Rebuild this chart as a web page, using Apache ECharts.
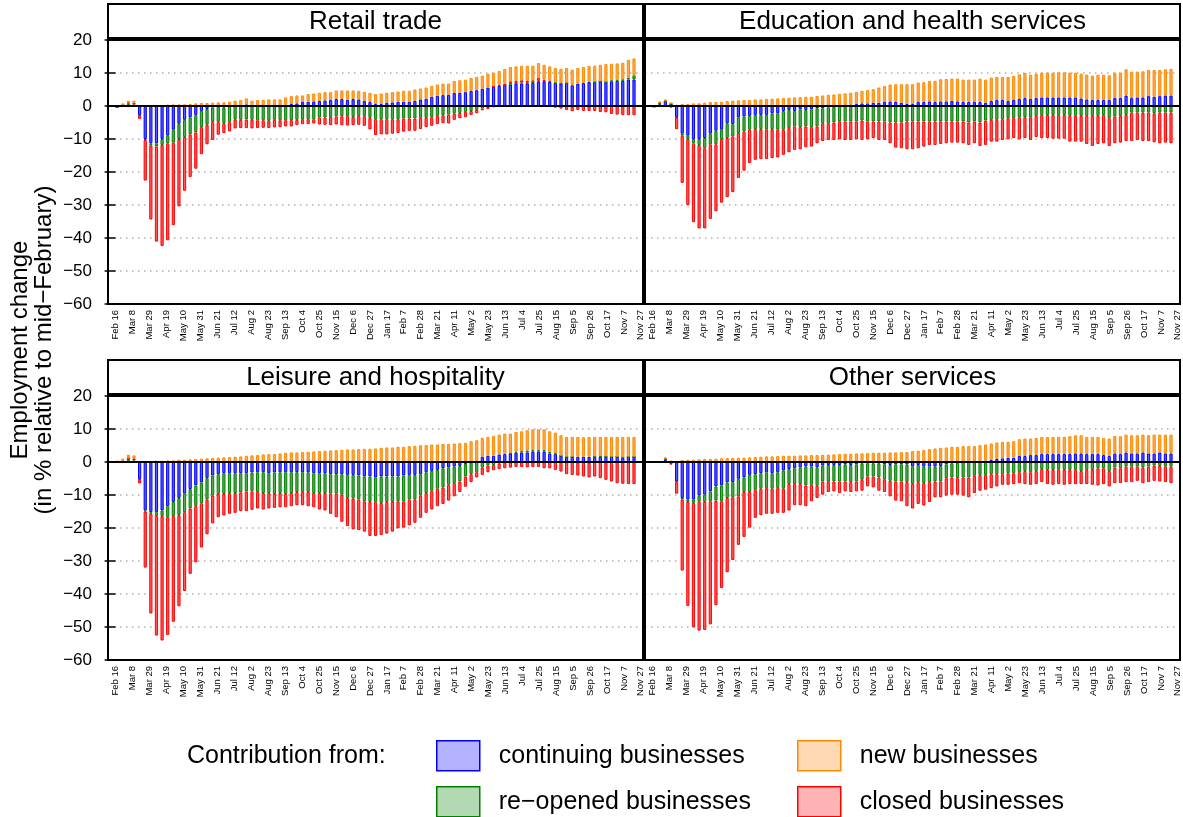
<!DOCTYPE html>
<html>
<head>
<meta charset="utf-8">
<script src="https://cdn.jsdelivr.net/npm/echarts@6/dist/echarts.min.js"></script>
<style>
html,body{margin:0;padding:0;background:#fff;}
#chart{width:1183px;height:817px;}
</style>
</head>
<body>
<div id="chart"></div>
<script>
// ---------- DATA ----------
const panelTitles = ['Retail trade', 'Education and health services', 'Leisure and hospitality', 'Other services'];
const seriesNames = ['continuing businesses', 're\u2212opened businesses', 'closed businesses', 'new businesses'];
const firstWeek = '2020-02-16';   // weekly observations start here
const tickDates = ['2020-02-16','2020-03-08','2020-03-29','2020-04-19','2020-05-10','2020-05-31','2020-06-21','2020-07-12',
  '2020-08-02','2020-08-23','2020-09-13','2020-10-04','2020-10-25','2020-11-15','2020-12-06','2020-12-27','2021-01-17',
  '2021-02-07','2021-02-28','2021-03-21','2021-04-11','2021-05-02','2021-05-23','2021-06-13','2021-07-04','2021-07-25',
  '2021-08-15','2021-09-05','2021-09-26','2021-10-17','2021-11-07','2021-11-27'];
const tickLabels = ['Feb 16','Mar 8','Mar 29','Apr 19','May 10','May 31','Jun 21','Jul 12','Aug 2','Aug 23','Sep 13','Oct 4',
  'Oct 25','Nov 15','Dec 6','Dec 27','Jan 17','Feb 7','Feb 28','Mar 21','Apr 11','May 2','May 23','Jun 13','Jul 4','Jul 25',
  'Aug 15','Sep 5','Sep 26','Oct 17','Nov 7','Nov 27'];

// Retail trade
const retailContinuing = [-0.3,0.2,0.3,0.0,-2.8,-10,-11.3,-11.3,-10,-9,
 -7.2,-5.4,-4.2,-3.4,-2.8,-1.5,-0.9,-0.4,-0.2,-0.5,
 0.0,0.1,0.2,0.5,0.2,0.1,0.2,0.1,0.1,0.1,
 0.3,0.6,0.8,1.2,1.3,1.4,1.5,1.7,1.8,2.1,
 2.1,1.9,2.1,2.0,1.5,1.2,0.6,0.6,1.0,1.1,
 1.3,1.3,1.3,1.6,2.0,2.2,2.8,3.1,3.3,3.4,
 4.0,4.0,4.2,4.6,4.8,5.2,5.6,5.8,6.1,6.3,
 6.5,6.8,6.8,6.8,7.0,7.3,7.3,7.3,7.0,6.8,
 7.0,6.3,6.8,7.0,7.3,7.3,7.5,7.3,7.5,7.6,
 7.6,8.0,8.0];
const retailReopened = [0,0,0.4,0.4,-0.2,-0.3,-0.6,-1.0,-1.8,-2.3,
 -3.9,-4.6,-5.2,-5.2,-5.2,-4.9,-4.8,-4.5,-4.7,-4.7,
 -4.9,-4.0,-4.2,-4.1,-4.2,-4.3,-4.3,-4.5,-4.2,-4.3,
 -4.3,-4.3,-4.2,-4.0,-4.0,-4.0,-3.5,-3.5,-3.3,-3.2,
 -3.1,-3.1,-3.3,-3.0,-3.1,-3.6,-4.0,-4.0,-4.0,-4.0,
 -4.0,-3.8,-3.8,-3.8,-3.6,-3.6,-3.4,-3.0,-2.8,-2.6,
 -2.2,-2.1,-1.8,-1.5,-1.2,-0.8,-0.6,-0.4,-0.2,0.0,
 0.2,0.2,0.3,0.2,0.2,0.3,0.2,0.3,0.1,0.1,
 0.0,-0.2,-0.1,-0.1,-0.1,0.0,0.0,0.0,0.3,0.2,
 0.5,0.6,1.3];
const retailClosed = [0,0,0.4,0.6,-0.9,-12.3,-22.5,-28.8,-30.6,-29.4,
 -25.0,-20.4,-16.3,-12.9,-11.0,-8.2,-5.9,-5.4,-3.8,-3.0,
 -2.8,-2.8,-2.5,-2.6,-2.6,-2.4,-2.3,-2.2,-2.3,-2.1,
 -1.9,-1.9,-1.6,-1.5,-1.5,-1.3,-2.1,-2.2,-2.5,-2.4,
 -2.7,-2.8,-2.5,-2.7,-2.9,-3.5,-4.8,-4.6,-4.6,-4.4,
 -4.2,-4.0,-3.7,-3.7,-3.4,-2.8,-2.6,-2.5,-2.4,-2.7,
 -2.0,-1.6,-1.6,-1.2,-1.0,-0.5,-0.2,0.2,0.3,0.5,
 0.8,0.6,0.7,0.6,0.6,0.9,0.5,-0.3,-0.5,-0.8,
 -1.2,-1.4,-1.1,-1.4,-1.4,-1.5,-1.8,-1.9,-2.4,-2.6,
 -2.7,-2.8,-2.8];
const retailNew = [0.3,0.6,0.5,0.6,0.2,0.3,0.3,0.3,0.3,0.4,
 0.5,0.5,0.5,0.6,0.8,0.9,0.9,1.0,1.1,1.1,
 1.3,1.5,1.6,1.8,1.4,1.7,1.7,1.9,1.9,1.9,
 2.3,2.4,2.4,2.0,2.3,2.4,2.5,2.5,2.4,2.6,
 2.6,2.8,2.6,2.6,2.8,2.8,3.0,3.2,3.0,3.1,
 3.1,3.3,3.3,3.4,3.3,3.4,3.3,3.4,3.5,3.4,
 3.6,3.8,3.8,3.9,4.0,4.0,4.2,4.1,4.2,4.4,
 4.3,4.4,4.4,4.6,4.4,4.5,4.5,4.4,4.4,4.4,
 4.5,4.7,4.7,4.8,4.8,4.9,5.0,5.4,5.0,5.1,
 5.0,5.4,5.1];

// Education and health services
const eduContinuing = [-0.2,0.5,1.3,0.6,-3.4,-8.4,-9.0,-10.0,-10.0,-9.7,
 -8.4,-7.5,-7.2,-5.2,-5.5,-3.4,-3.2,-3.0,-2.7,-2.7,
 -2.7,-2.2,-2.2,-1.5,-1.2,-1.5,-1.0,-1.2,-1.0,-0.7,
 -0.7,-0.5,-0.2,0.1,0.1,0.3,0.6,0.8,0.8,1.0,
 1.0,1.2,1.4,1.2,1.0,0.6,0.6,1.2,1.2,1.4,
 1.2,1.4,1.4,1.6,1.4,1.2,1.2,1.2,1.2,1.0,
 1.5,1.8,1.8,1.5,1.8,2.1,2.4,2.1,2.4,2.6,
 2.6,2.6,2.6,2.6,2.6,2.6,2.3,2.0,1.8,1.8,
 1.8,1.8,2.4,2.4,3.2,2.4,2.6,2.6,3.0,2.8,
 3.0,3.2,3.2];
const eduReopened = [0,0.2,0,0,-0.2,-0.6,-1.0,-1.3,-1.8,-3.1,
 -3.2,-4.1,-2.8,-4.5,-3.7,-4.8,-4.5,-4.2,-4.3,-4.3,
 -4.5,-4.8,-5.0,-5.7,-5.5,-4.7,-5.4,-5.0,-5.4,-5.5,
 -4.5,-4.9,-4.8,-4.6,-4.7,-4.7,-4.7,-4.4,-4.7,-4.7,
 -4.7,-4.7,-5.0,-5.0,-5.0,-4.7,-4.7,-4.7,-4.7,-4.7,
 -4.7,-4.7,-4.7,-4.7,-4.7,-4.7,-5.0,-4.7,-5.0,-4.4,
 -4.2,-4.2,-4.0,-3.7,-3.7,-3.4,-3.4,-3.4,-3.0,-2.7,
 -2.7,-2.7,-2.7,-2.7,-3.0,-3.0,-3.0,-3.0,-3.0,-3.0,
 -2.7,-3.7,-3.2,-3.0,-2.7,-2.0,-2.0,-2.0,-2.0,-2.2,
 -2.0,-2.0,-2.0];
const eduClosed = [0,0.2,0.2,-0.5,-3.4,-14.3,-20.0,-23.9,-25.3,-24.3,
 -22.6,-20.3,-19.3,-17.9,-16.9,-13.6,-11.9,-10.1,-9.3,-9.1,
 -8.9,-8.8,-8.4,-7.6,-7.3,-7.1,-6.7,-6.3,-5.9,-5.1,
 -5.4,-4.9,-5.3,-5.5,-5.6,-5.6,-5.4,-5.9,-5.4,-5.0,
 -5.6,-5.6,-6.3,-7.6,-7.8,-8.4,-8.4,-8.1,-7.6,-7.1,
 -7.1,-6.8,-6.6,-6.4,-6.4,-6.6,-6.8,-6.6,-7.1,-7.4,
 -6.6,-6.6,-6.3,-6.4,-6.0,-6.7,-6.3,-6.9,-6.4,-7.0,
 -7.0,-7.2,-7.2,-7.2,-7.8,-7.8,-7.8,-8.5,-9.1,-8.5,
 -8.6,-8.4,-8.1,-8.1,-7.9,-8.6,-8.3,-8.6,-8.6,-8.8,
 -9.3,-9.1,-9.3];
const eduNew = [0.2,0.5,0.5,0.5,0.4,0.6,0.6,0.8,0.8,1.0,
 1.2,1.2,1.3,1.5,1.6,1.7,1.8,1.8,2.0,2.0,
 2.1,2.2,2.3,2.4,2.5,2.6,2.7,2.8,2.8,3.0,
 3.2,3.4,3.5,3.6,3.7,3.7,3.7,3.8,4.0,4.1,
 4.6,4.8,5.1,5.4,5.6,6.0,6.0,5.9,6.0,6.2,
 6.4,6.7,6.8,6.7,6.9,6.8,6.8,6.8,7.1,7.0,
 7.1,7.0,7.0,7.3,7.3,7.5,7.6,7.4,7.4,7.5,
 7.5,7.5,7.6,7.6,7.5,7.5,7.5,7.5,7.4,7.7,
 7.7,7.5,7.7,7.7,7.9,8.0,7.8,7.9,7.9,8.1,
 7.9,7.9,8.0];

// Leisure and hospitality
const leisureContinuing = [0.1,0.1,-0.1,-0.1,-5.2,-14.7,-15.2,-15.2,-14.7,-13.4,
 -12.1,-10.9,-9.6,-8.2,-7.1,-6.2,-4.9,-4.1,-3.7,-3.4,
 -3.4,-3.4,-3.4,-3.4,-3.2,-3.1,-3.1,-3.4,-3.2,-3.1,
 -3.1,-3.1,-3.1,-3.1,-3.1,-3.4,-3.4,-3.4,-3.7,-3.7,
 -3.7,-3.9,-3.9,-4.1,-4.4,-4.4,-4.7,-4.4,-4.4,-4.4,
 -4.4,-4.1,-3.9,-3.9,-3.7,-3.1,-2.7,-2.4,-1.9,-1.7,
 -1.4,-1.2,-0.6,-0.2,0.3,1.6,1.9,1.9,2.3,2.4,
 2.6,2.8,2.9,2.9,3.1,3.1,3.1,2.6,2.4,1.9,
 1.6,1.6,1.6,1.6,1.6,1.6,1.6,1.6,1.6,1.6,
 1.3,1.6,1.6];
const leisureReopened = [0,0,0.6,0.5,-0.2,-0.3,-0.5,-1.2,-1.7,-3.3,
 -4.3,-5.2,-5.6,-5.9,-6.3,-6.3,-6.5,-6.1,-6.0,-6.3,
 -6.0,-6.0,-5.8,-5.5,-5.7,-6.0,-6.3,-6.0,-6.5,-6.3,
 -6.6,-6.3,-6.0,-6.0,-6.0,-6.0,-6.0,-6.0,-5.9,-5.9,
 -6.2,-7.0,-7.2,-7.3,-7.5,-7.7,-7.5,-8.0,-7.7,-7.7,
 -7.5,-7.8,-7.5,-7.5,-6.4,-6.3,-6.0,-5.7,-5.8,-5.2,
 -5.0,-4.7,-3.8,-3.5,-3.1,-1.7,-1.1,-0.9,-0.5,-0.2,
 0.1,0.3,0.4,0.6,0.5,0.5,0.5,0.5,0.2,0,
 0,0,-0.1,-0.1,-0.1,0.1,0.2,0.1,0,0,
 0.1,0,0];
const leisureClosed = [0,0.3,0.8,0.6,-1.1,-17.0,-30.2,-36.2,-37.7,-35.7,
 -32.0,-27.6,-23.9,-19.8,-17.0,-13.4,-10.5,-8.4,-7.0,-6.5,
 -6.3,-6.0,-5.7,-6.0,-5.6,-5.0,-5.0,-4.7,-4.2,-4.3,
 -4.0,-4.0,-4.0,-4.0,-4.3,-4.3,-5.0,-5.3,-6.1,-7.1,
 -8.2,-8.5,-9.3,-9.2,-9.2,-10.3,-10.2,-9.7,-9.6,-9.0,
 -8.2,-8.0,-7.8,-7.0,-6.8,-6.0,-5.7,-5.3,-5.0,-4.8,
 -4.0,-3.2,-3.1,-2.4,-1.6,-2.2,-2.0,-1.6,-1.6,-1.7,
 -1.7,-1.5,-1.5,-1.6,-1.5,-1.5,-1.9,-1.9,-2.4,-2.9,
 -3.7,-3.9,-4.0,-4.3,-4.6,-4.4,-4.9,-5.4,-5.9,-6.4,
 -6.6,-6.7,-6.7];
const leisureNew = [0.3,0.6,0.8,0.9,0.2,0.2,0.3,0.4,0.4,0.5,
 0.5,0.7,0.7,0.8,0.9,1.0,1.1,1.2,1.3,1.4,
 1.5,1.6,1.7,1.9,2.0,2.1,2.3,2.4,2.4,2.6,
 2.8,2.9,2.9,3.0,3.1,3.2,3.3,3.4,3.5,3.6,
 3.7,3.8,3.8,3.9,4.0,4.0,4.1,4.3,4.4,4.4,
 4.6,4.6,4.8,4.9,5.1,5.1,5.3,5.3,5.5,5.5,
 5.6,5.7,5.8,6.3,6.3,5.7,5.7,6.0,6.0,6.2,
 5.9,6.0,6.0,6.1,6.3,6.3,6.3,6.2,6.3,6.2,
 6.0,6.0,6.0,5.9,6.0,5.9,5.8,5.9,6.0,6.0,
 6.2,6.0,6.0];

// Other services
const otherContinuing = [-0.1,0,0.6,0.1,-5.9,-10.9,-11.4,-11.4,-10.2,-9.9,
 -8.9,-7.4,-7.1,-6.2,-6.1,-5.1,-4.7,-3.9,-3.7,-3.4,
 -3.1,-3.4,-3.1,-2.6,-2.1,-1.9,-1.7,-1.4,-1.4,-1.7,
 -1.1,-0.9,-0.9,-0.9,-0.7,-0.9,-0.7,-0.5,-0.5,-0.5,
 -0.5,-0.7,-0.9,-0.7,-0.7,-0.7,-1.4,-0.9,-1.4,-1.4,
 -1.4,-1.2,-0.7,-0.4,-0.2,0.1,0.1,0.1,0.2,0.4,
 0.6,0.9,1.1,1.3,1.3,1.8,1.8,2.1,2.1,2.4,
 2.4,2.4,2.4,2.4,2.4,2.6,2.6,2.4,2.4,2.4,
 2.1,1.8,2.6,2.4,2.9,2.6,2.6,2.9,2.6,2.6,
 2.9,2.6,2.6];
const otherReopened = [0,0,0.2,-0.3,-0.2,-0.5,-0.7,-1.0,-1.7,-2.2,
 -3.0,-4.3,-4.8,-4.7,-4.6,-5.3,-4.4,-5.2,-4.7,-4.7,
 -4.8,-4.7,-4.8,-5.5,-4.6,-4.8,-5.0,-5.7,-5.5,-5.5,
 -4.8,-5.2,-5.0,-5.0,-5.2,-5.2,-5.2,-4.9,-3.9,-3.9,
 -4.2,-4.7,-4.8,-5.2,-5.2,-5.4,-5.3,-5.2,-5.0,-4.7,
 -4.5,-4.7,-4.2,-4.3,-4.7,-4.7,-4.7,-4.2,-3.9,-3.9,
 -3.7,-3.7,-3.7,-3.4,-3.4,-3.1,-2.7,-3.1,-2.7,-2.1,
 -2.4,-2.4,-2.2,-2.4,-2.4,-2.4,-2.7,-2.4,-2.4,-1.9,
 -1.9,-2.7,-1.7,-1.9,-1.4,-1.4,-1.4,-1.7,-1.4,-1.1,
 -1.2,-1.4,-1.4];
const otherClosed = [0,0,0.2,-0.5,-3.5,-21.5,-31.5,-37.7,-39.2,-38.8,
 -37.3,-31.7,-26.3,-22.5,-19.0,-14.7,-13.6,-10.8,-8.5,-8.0,
 -7.8,-7.6,-7.5,-7.3,-8.0,-6.4,-6.4,-6.3,-5.0,-3.7,
 -4.0,-3.0,-3.0,-3.5,-3.0,-3.0,-3.0,-3.3,-3.0,-3.3,
 -4.0,-3.7,-4.7,-5.8,-6.0,-7.3,-7.4,-6.6,-6.8,-6.0,
 -4.8,-4.8,-5.3,-5.2,-5.0,-5.5,-6.0,-5.2,-4.8,-4.5,
 -4.2,-3.7,-3.2,-3.5,-3.3,-3.3,-4.0,-3.8,-4.0,-4.0,
 -4.3,-4.5,-4.5,-4.5,-4.3,-4.3,-4.0,-4.3,-4.5,-5.2,
 -4.8,-4.7,-4.7,-4.5,-4.7,-4.7,-4.3,-4.7,-4.7,-4.6,
 -4.7,-4.7,-5.0];
const otherNew = [0.2,0.3,0.4,0.3,0.3,0.6,0.7,0.7,0.8,0.9,
 0.9,1.0,1.1,1.2,1.2,1.3,1.3,1.4,1.5,1.6,
 1.7,1.7,1.8,1.9,1.9,1.9,2.0,2.0,2.1,2.1,
 2.2,2.2,2.3,2.4,2.5,2.5,2.6,2.6,2.7,2.8,
 2.8,2.8,2.9,2.9,3.0,3.0,3.3,3.4,3.6,3.9,
 4.1,4.3,4.4,4.6,4.6,4.7,4.7,4.7,4.9,4.9,
 5.0,5.0,5.0,4.8,5.0,5.1,5.3,5.0,5.2,5.2,
 5.2,5.2,5.2,5.2,5.4,5.5,5.5,5.2,5.2,5.2,
 5.2,5.3,5.3,5.4,5.4,5.5,5.5,5.4,5.5,5.7,
 5.4,5.7,5.7];

const panelData = [
  [retailContinuing, retailReopened, retailClosed, retailNew],
  [eduContinuing, eduReopened, eduClosed, eduNew],
  [leisureContinuing, leisureReopened, leisureClosed, leisureNew],
  [otherContinuing, otherReopened, otherClosed, otherNew]
];

// ---------- STYLE / LAYOUT ----------
const FONT = '"Liberation Sans", Arial, Helvetica, sans-serif';
const fills   = ['#5a5aff', '#55aa55', '#ff5a5a', '#ffa84a'];
const borders = ['#0000ff', '#008000', '#ff0000', '#ff8c00'];
const legendFills = ['#b3b3ff', '#b3d9b3', '#ffb3b3', '#ffd9b3'];

const DAY = 86400000;
const t0 = Date.parse(firstWeek + 'T00:00:00Z');
const tickDays = tickDates.map(d => Math.round((Date.parse(d + 'T00:00:00Z') - t0) / DAY));
const padLeftDays = 9.4, spanEndDays = 653.2;

const gridLefts = [108, 645, 108, 645];
const gridTops = [40, 40, 396, 396];
const GW = 535, GH = 264;

const grids = [], xAxes = [], yAxes = [], series = [];
for (let p = 0; p < 4; p++) {
  grids.push({left: gridLefts[p], top: gridTops[p], width: GW, height: GH,
    show: true, borderColor: '#000', borderWidth: 2, backgroundColor: 'transparent', z: 5});
  // time axis that positions the weekly bars (no labels)
  xAxes.push({
    type: 'time', gridIndex: p, position: 'top',
    min: t0 - padLeftDays * DAY, max: t0 + spanEndDays * DAY,
    axisLine: {show: false}, axisTick: {show: false}, splitLine: {show: false},
    axisLabel: {show: false}
  });
  // same range in days since mid-February, carrying the date labels
  xAxes.push({
    type: 'value', gridIndex: p, position: 'bottom',
    min: -padLeftDays, max: spanEndDays,
    axisLine: {show: false}, axisTick: {show: false}, splitLine: {show: false},
    axisLabel: {
      show: true, rotate: 90, fontSize: 9.5, color: '#000', fontFamily: FONT, margin: 6,
      customValues: tickDays, hideOverlap: false,
      formatter: function (v) {
        const i = tickDays.indexOf(Math.round(v));
        return i >= 0 ? tickLabels[i] : '';
      }
    }
  });
  const left = (p % 2 === 0);
  yAxes.push({
    type: 'value', gridIndex: p, min: -60, max: 20, interval: 10,
    axisLine: {show: false},
    axisTick: {show: left, length: 11, inside: false, lineStyle: {color: '#000', width: 1.5}},
    axisLabel: {show: left, fontSize: 17, color: '#000', fontFamily: FONT, margin: 16,
      formatter: v => (v < 0 ? '\u2212' + Math.abs(v) : String(v))},
    splitLine: {show: true, lineStyle: {color: '#b0b0b0', width: 1.5, type: [1.5, 4.5]}}
  });
  for (let s = 0; s < 4; s++) {
    const vals = panelData[p][s];
    const ser = {
      type: 'bar', name: seriesNames[s], xAxisIndex: 2 * p, yAxisIndex: p,
      stack: 'panel' + p, barWidth: 3.2,
      data: vals.map((v, k) => [t0 + k * 7 * DAY, v]),
      itemStyle: {color: fills[s], borderColor: borders[s], borderWidth: 1},
      emphasis: {disabled: true}
    };
    if (s === 0) {
      ser.markLine = {silent: true, symbol: 'none', label: {show: false}, animation: false,
        lineStyle: {color: '#000', width: 2, type: 'solid'}, data: [{yAxis: 0}]};
    }
    series.push(ser);
  }
}

// strip titles
const graphics = [];
for (let p = 0; p < 4; p++) {
  const x = gridLefts[p], y = gridTops[p] - 36;
  graphics.push({type: 'rect', shape: {x: x, y: y, width: GW, height: 34},
    style: {fill: '#fff', stroke: '#000', lineWidth: 2}, z: 10});
  graphics.push({type: 'text', x: x + GW / 2, y: y + 18, z: 11,
    style: {text: panelTitles[p], textAlign: 'center', textVerticalAlign: 'middle',
      font: '26px ' + FONT, fill: '#000'}});
}
graphics.push({type: 'text', x: 32, y: 350, rotation: Math.PI / 2, z: 11,
  style: {text: 'Employment change\n(in % relative to mid\u2212February)', textAlign: 'center',
    textVerticalAlign: 'middle', font: '24px ' + FONT, lineHeight: 24, fill: '#000'}});
graphics.push({type: 'text', x: 187, y: 756, z: 11,
  style: {text: 'Contribution from:', textAlign: 'left', textVerticalAlign: 'middle',
    font: '25px ' + FONT, fill: '#000'}});

const legendPos = [[436, 740], [436, 786], [797, 786], [797, 740]];
const legends = seriesNames.map((n, i) => ({
  left: legendPos[i][0], top: legendPos[i][1], padding: 0, itemGap: 0,
  itemWidth: 43, itemHeight: 30, icon: 'rect', selectedMode: false,
  textStyle: {fontSize: 25, color: '#000', fontFamily: FONT, padding: [0, 0, 0, 14]},
  data: [{name: n, itemStyle: {color: legendFills[i], borderColor: borders[i], borderWidth: 1.5}}]
}));

const chart = echarts.init(document.getElementById('chart'), null, {renderer: 'canvas'});
chart.setOption({
  animation: false,
  backgroundColor: '#fff',
  textStyle: {fontFamily: FONT},
  grid: grids, xAxis: xAxes, yAxis: yAxes, series: series,
  legend: legends,
  graphic: graphics
});
</script>
</body>
</html>
